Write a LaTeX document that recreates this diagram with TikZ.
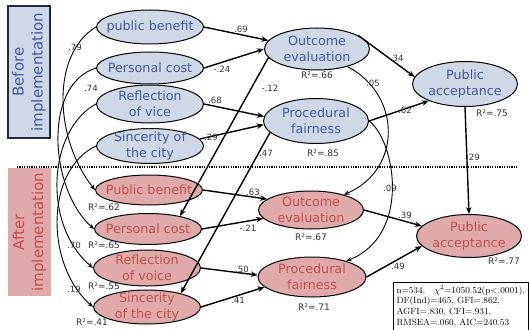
\documentclass[tikz,border=0pt]{standalone}
\usepackage{fontspec}
\newfontfamily\dv{DejaVu Sans}
\usetikzlibrary{shapes.geometric,arrows.meta}
\definecolor{bfill}{HTML}{CFD8E6}
\definecolor{btext}{HTML}{3D5A99}
\definecolor{afill}{HTML}{E1AAAA}
\definecolor{atext}{HTML}{C0504D}
\definecolor{bline}{HTML}{1F2A40}
\begin{document}
\begin{tikzpicture}[x=1pt,y=-1pt,
  bell/.style={ellipse, draw, line width=1pt, fill=bfill, inner sep=0pt, minimum width=107pt},
  aell/.style={bell, fill=afill},
  btxt/.style={text=btext, font=\dv\fontsize{12.7}{15.5}\selectfont, align=center, inner sep=0pt},
  atxt/.style={btxt, text=atext},
  pth/.style={line width=1.4pt, -{Stealth[length=7pt,width=5.5pt]}},
  crv/.style={line width=0.9pt, -{Stealth[length=5.5pt,width=4.5pt]}},
  num/.style={font=\dv\fontsize{8.6}{9}\selectfont, text=black!80, inner sep=0pt},
  rsq/.style={font=\dv\fontsize{9}{10}\selectfont, text=black!80, inner sep=0pt}]
\useasboundingbox (0,0) rectangle (529,329);

% side boxes
\node[rotate=90, minimum width=132pt, minimum height=42pt, fill=bfill, draw=bline, line width=1.3pt,
  text=btext, font=\dv\fontsize{15}{19}\selectfont, align=center, inner sep=0pt] (bbox) at (29,72) {Before\\implementation};
\node[rotate=90, minimum width=128pt, minimum height=43pt, fill=afill,
  text=atext, font=\dv\fontsize{15}{19}\selectfont, align=center, inner sep=0pt] (abox) at (29.5,232) {After\\implementation};

% dotted divider
\coordinate (d1) at (17,167);
\coordinate (d2) at (518,167);
\draw[line width=1.6pt, dash pattern=on 1.2pt off 1.2pt] (d1) -- (d2);

% before nodes
\node[bell, minimum height=34pt, label={[btxt]center:public benefit}] (pbB) at (150,27) {};
\node[bell, minimum height=32pt, label={[btxt]center:Personal cost}] (pcB) at (150,68) {};
\node[bell, minimum height=38pt, label={[btxt]center:Reflection\\of vice}] (rvB) at (150,104) {};
\node[bell, minimum height=35pt, label={[btxt]center:Sincerity of\\the city}] (scB) at (150,146) {};
\node[bell, minimum width=105pt, minimum height=42pt, label={[btxt]center:Outcome\\evaluation}] (oeB) at (317,49) {};
\node[bell, minimum width=105pt, minimum height=45pt, label={[btxt]center:Procedural\\fairness}] (pfB) at (316,121) {};
\node[bell, minimum width=105pt, minimum height=45pt, label={[btxt]center:Public\\acceptance}] (paB) at (465,84) {};

% after nodes
\node[aell, minimum height=30pt, label={[atxt]center:Public benefit}] (pbA) at (149,190) {};
\node[aell, minimum height=31pt, label={[atxt]center:Personal cost}] (pcA) at (148,229) {};
\node[aell, minimum height=36pt, label={[atxt]center:Reflection\\of voice}] (rvA) at (147,268) {};
\node[aell, minimum height=34pt, label={[atxt]center:Sincerity\\of the city}] (scA) at (147,307) {};
\node[aell, minimum width=105pt, minimum height=38pt, label={[atxt]center:Outcome\\evaluation}] (oeA) at (311,210) {};
\node[aell, minimum width=108pt, minimum height=40pt, label={[atxt]center:Procedural\\fairness}] (pfA) at (312,277) {};
\node[aell, minimum width=105pt, minimum height=43pt, label={[atxt]center:Public\\acceptance}] (paA) at (469,236) {};

% structural paths (before)
\draw[pth] (pbB.east) -- (oeB.170);
\draw[pth] (pcB.east) -- (oeB.180);
\draw[pth] (rvB.east) -- (pfB.175);
\draw[pth] (scB.8) -- (pfB.184);
\draw[pth] (oeB.18) -- (paB.172);
\draw[pth] (pfB.east) -- (paB.205);
\draw[pth] (paB.south) -- (paA.north);
% structural paths (after)
\draw[pth] (pbA.east) -- (oeA.166);
\draw[pth] (pcA.east) -- (oeA.190);
\draw[pth] (rvA.east) -- (pfA.178);
\draw[pth] (scA.east) -- (pfA.192);
\draw[pth] (oeA.east) -- (paA.168);
\draw[pth] (pfA.east) -- (paA.192);
% cross-lagged
\draw[pth] (oeB.190) -- (pcA.22);
\draw[pth] (pfB.194) -- (scA.22);

% stability curves left
\draw[crv] (pbB.west) .. controls (50,55) and (55,140) .. (pbA.west);
\draw[crv] (pcB.west) .. controls (42,85) and (50,190) .. (pcA.west);
\draw[crv] (rvB.west) .. controls (48,130) and (42,225) .. (rvA.west);
\draw[crv] (scB.west) .. controls (45,170) and (45,265) .. (scA.west);
% stability curves right
\draw[crv] (oeB.330) .. controls (402,95) and (402,170) .. (oeA.25);
\draw[crv] (pfB.east) .. controls (395,140) and (412,235) .. (pfA.25);

% path coefficients
\node[num] (c1) at (75,47) {.79};
\node[num] (c2) at (91,88) {.74};
\node[num] (c3) at (241,29) {.69};
\node[num] (c4) at (222,69) {-.24};
\node[num] (c5) at (215,100) {.68};
\node[num] (c6) at (211,137) {.29};
\node[num] (c7) at (270,88) {-.12};
\node[num] (c8) at (266,153) {.47};
\node[num] (c9) at (398,58) {34};
\node[num] (c10) at (373,83) {.05};
\node[num] (c11) at (405,110) {.62};
\node[num] (c12) at (473,157) {.29};
\node[num] (c13) at (253,192) {.63};
\node[num] (c14) at (248,228) {-.21};
\node[num] (c15) at (242,269) {.50};
\node[num] (c16) at (238,300) {.41};
\node[num] (c17) at (390,188) {.09};
\node[num] (c18) at (405,215) {.39};
\node[num] (c19) at (398,266) {.49};
\node[num] (c20) at (74,245) {.70};
\node[num] (c21) at (74,289) {.19};

% R squared
\node[rsq] (r1) at (317,75) {R²=.66};
\node[rsq] (r2) at (323,153) {R²=.85};
\node[rsq] (r3) at (492,113) {R²=.75};
\node[rsq] (r4) at (104,207) {R²=.62};
\node[rsq] (r5) at (104,245) {R²=.65};
\node[rsq] (r6) at (104,286) {R²=.55};
\node[rsq] (r7) at (92,322) {R²=.41};
\node[rsq] (r8) at (311,237) {R²=.67};
\node[rsq] (r9) at (314,307) {R²=.71};
\node[rsq] (r10) at (504,261) {R²=.77};

% fit statistics
\node[draw, line width=1pt, anchor=north west, text width=129pt, inner sep=3pt, minimum height=45pt,
  align=left, font=\fontsize{9}{10.8}\selectfont] (stats) at (393,282)
  {n=534,\quad $\chi^2$=1050.52(p$<$.0001),\\DF(Ind)=465, GFI=.862,\\AGFI=.830, CFI=.931,\\RMSEA=.060, AIC=240.53};
\end{tikzpicture}
\end{document}
